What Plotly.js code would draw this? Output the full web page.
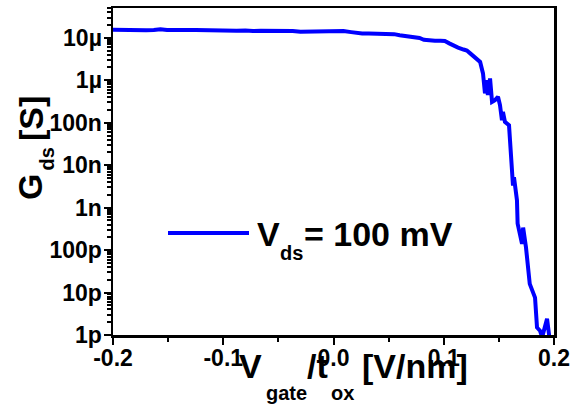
<!DOCTYPE html>
<html>
<head>
<meta charset="utf-8">
<script src="https://cdn.plot.ly/plotly-3.0.1.min.js"></script>
<style>html,body{margin:0;padding:0;background:#fff;}#chart{width:585px;height:405px;}</style>
</head>
<body>
<div id="chart"></div>
<script>
// Gate field V_gate/t_ox [V/nm]
var vField = [
  -0.200,-0.192,-0.185,-0.178,-0.170,-0.163,-0.157,-0.151,-0.145,-0.139,
  -0.132,-0.125,-0.118,-0.110,-0.103,-0.096,-0.088,-0.080,-0.073,-0.066,
  -0.058,-0.051,-0.044,-0.037,-0.030,-0.022,-0.015,-0.008,-0.003,0.003,
  0.009,0.016,0.020,0.026,0.032,0.040,0.048,0.055,0.060,0.066,
  0.072,0.078,0.082,0.087,0.092,0.097,0.101,0.105,0.109,0.113,
  0.118,0.121,0.124,0.128,0.133,0.1356,0.1374,0.139,0.140,0.142,
  0.1438,0.1465,0.1492,0.151,0.1528,0.1537,0.1555,0.1592,0.1619,0.1628,
  0.1637,0.1664,0.167,0.171,0.172,0.1746,0.178,0.1828,0.1846,0.1873,
  0.189,0.190,0.1937,0.1955,0.196
];
// Conductance G_ds [S]
var gds = [
  1.55e-5,1.53e-5,1.50e-5,1.48e-5,1.51e-5,1.53e-5,1.58e-5,1.52e-5,1.50e-5,1.51e-5,
  1.53e-5,1.52e-5,1.50e-5,1.52e-5,1.50e-5,1.49e-5,1.47e-5,1.49e-5,1.44e-5,1.47e-5,
  1.48e-5,1.43e-5,1.42e-5,1.45e-5,1.39e-5,1.41e-5,1.40e-5,1.43e-5,1.46e-5,1.45e-5,
  1.44e-5,1.36e-5,1.30e-5,1.26e-5,1.27e-5,1.26e-5,1.26e-5,1.22e-5,1.15e-5,1.10e-5,
  1.02e-5,9.9e-6,9.0e-6,8.6e-6,8.5e-6,8.5e-6,8.4e-6,7.4e-6,6.5e-6,5.9e-6,
  5.3e-6,5.0e-6,4.3e-6,3.6e-6,2.7e-6,1.45e-6,4.9e-7,1.0e-6,4.5e-7,1.1e-6,
  3.1e-7,3.4e-7,4.1e-7,2.6e-7,1.15e-7,1.8e-7,1.05e-7,8.7e-8,5.2e-9,3.3e-9,
  5.2e-9,1.5e-9,4.2e-10,1.4e-10,3.4e-10,1.15e-10,1.6e-11,7.6e-12,1.5e-12,1.26e-12,
  9.3e-13,1.05e-12,2.4e-12,1.1e-12,8e-13
];
var xTickVals = [-0.2,-0.1,0.0,0.1,0.2];
var xTickText = ["-0.2","-0.1","0.0","0.1","0.2"];
var yTickVals = [1e-12,1e-11,1e-10,1e-9,1e-8,1e-7,1e-6,1e-5];
var yTickText = ["1p","10p","100p","1n","10n","100n","1\u00b5","10\u00b5"];
var seriesName = "V<sub>ds</sub>= 100 mV";

function bold(arr){ return arr.map(function(s){ return '<b>' + s + '</b>'; }); }

var yMinor = [];
for (var k = -12; k <= -5; k++) {
  for (var m = 2; m <= 9; m++) { yMinor.push(m * Math.pow(10, k)); }
}
var xMinor = [-0.15,-0.05,0.05,0.15];

var FONT = "Liberation Sans, Arial, sans-serif";
var L = 113, R = 554, T = 8, B = 335;
function px(x){ return (x - L) / (R - L); }
function py(y){ return (B - y) / (B - T); }
function ann(text, x, y, size, angle){
  return {text: '<b>' + text + '</b>', xref:'paper', yref:'paper', x: px(x), y: py(y),
    xanchor:'center', yanchor:'middle', showarrow:false, textangle: angle || 0,
    font:{family:FONT, size:size, color:'#000'}};
}

var trace = {x: vField, y: gds, type:'scatter', mode:'lines', name: seriesName,
  line:{color:'#0000ff', width:4}, showlegend:false};

var axisCommon = {showgrid:false, zeroline:false, showline:true, mirror:true,
  linecolor:'#000', linewidth:2.5, ticks:'outside', tickcolor:'#000',
  tickwidth:2, ticklen:7, tickmode:'array',
  tickfont:{family:FONT, size:23, color:'#000'}};

var layout = {
  width:585, height:405,
  margin:{l:L, r:585-R, t:T, b:405-B, pad:0},
  paper_bgcolor:'#fff', plot_bgcolor:'#fff',
  showlegend:false,
  xaxis: Object.assign({}, axisCommon, {range:[-0.2,0.2], tickvals:xTickVals, ticktext:bold(xTickText),
    ticklabelstandoff:-6,
    minor:{tickvals:xMinor, ticks:'outside', ticklen:4, tickwidth:2, tickcolor:'#000'}}),
  yaxis: Object.assign({}, axisCommon, {type:'log', range:[-12,-4.298], tickvals:yTickVals, ticktext:bold(yTickText),
    ticklabelstandoff:-3,
    minor:{tickvals:yMinor, ticks:'outside', ticklen:4, tickwidth:2, tickcolor:'#000'}}),
  shapes:[{type:'line', xref:'paper', yref:'paper', x0:px(168), x1:px(249), y0:py(233), y1:py(233),
    line:{color:'#0000ff', width:4}}],
  annotations:[
    // legend text
    ann('V', 268, 233.5, 34), ann('ds', 291.5, 253, 20), ann('= 100 mV', 378.5, 233.5, 34),
    // x title
    ann('V', 250, 366, 34), ann('gate', 286, 393, 20), ann('/t', 317, 366, 34),
    ann('ox', 342, 393, 20), ann('[V/nm]', 415, 366, 34),
    // y title
    ann('G', 29.5, 187.5, 34, -90), ann('ds', 46, 159.5, 20, -90), ann('[S]', 31, 119, 34, -90)
  ]
};
Plotly.newPlot('chart', [trace], layout, {staticPlot:true, displayModeBar:false});
</script>
</body>
</html>
